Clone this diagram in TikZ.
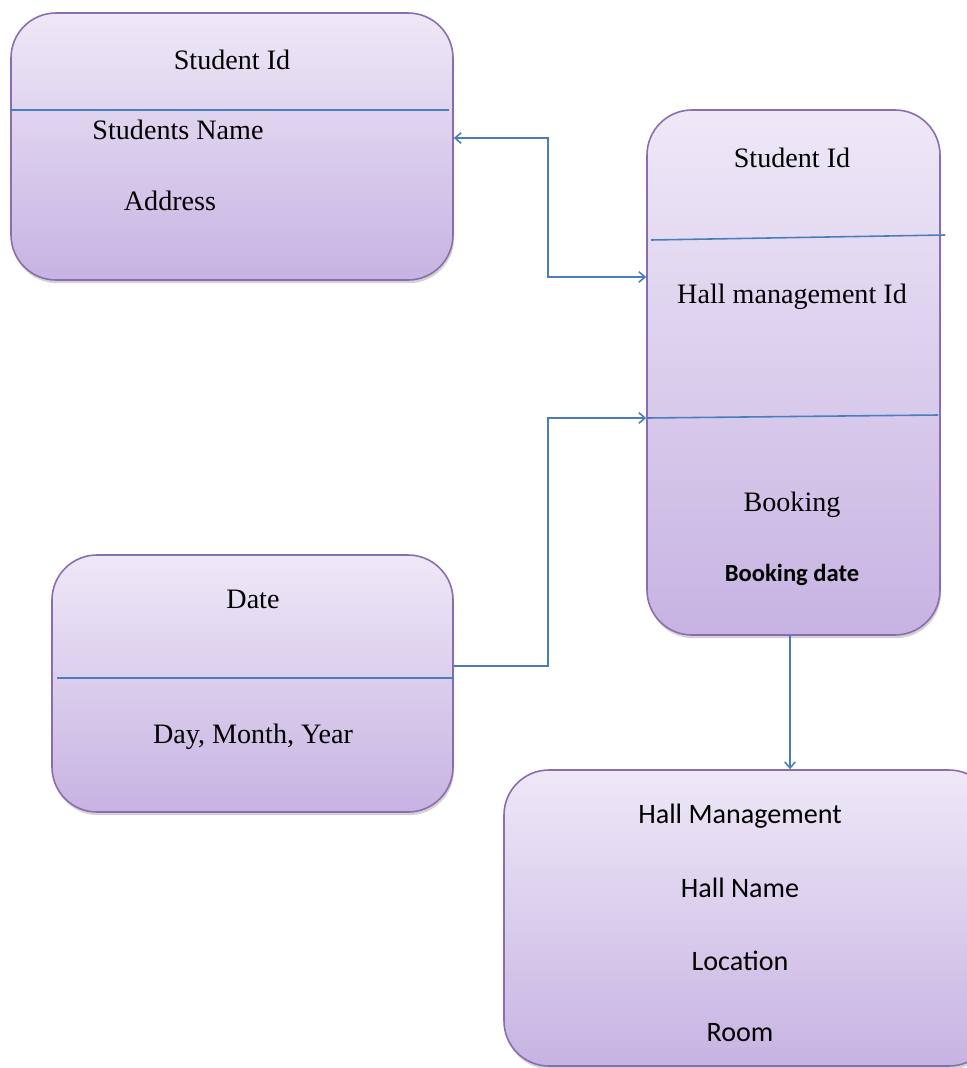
\documentclass[tikz,border=0pt]{standalone}
\usepackage{fontspec}
\setmainfont{Liberation Serif}
\newfontfamily\calib{Carlito}
\usepackage{tikz}
\usetikzlibrary{arrows.meta, positioning, calc, shadows}
\definecolor{lavtop}{HTML}{EEE8F7}
\definecolor{lavbot}{HTML}{C7B3E2}
\definecolor{lavedge}{HTML}{8A6DAE}
\definecolor{linkblue}{HTML}{4A7EBB}

\begin{document}
\begin{tikzpicture}[
    entbox/.style={draw=lavedge, line width=0.9pt, rounded corners=0.9cm,
      top color=lavtop, bottom color=lavbot,
      drop shadow={opacity=0.35, shadow xshift=0.6pt, shadow yshift=-1.8pt}},
    sep/.style={linkblue, line width=0.9pt},
    link/.style={linkblue, line width=0.9pt},
    tip/.style={-{Straight Barb[length=3.5pt,width=6pt]}},
    bothtips/.style={{Straight Barb[length=3.5pt,width=6pt]}-{Straight Barb[length=3.5pt,width=6pt]}},
    lbl/.style={font=\fontsize{16}{18}\selectfont},
    slbl/.style={font=\calib\fontsize{16}{18}\selectfont}
  ]
  \useasboundingbox (0,0) rectangle (19.34,-21.36);
  \fill[white] (0,0) rectangle (19.34,-21.36);

  % entity boxes
  \node[entbox, minimum width=8.84cm, minimum height=5.34cm] (stu) at (4.64,-2.93) {};
  \node[entbox, minimum width=5.86cm, minimum height=10.5cm] (bk) at (15.87,-7.45) {};
  \node[entbox, minimum width=8.02cm, minimum height=5.14cm] (date) at (5.05,-13.67) {};
  \node[entbox, minimum width=9.80cm, minimum height=5.92cm] (hall) at (14.98,-18.36) {};

  % separators
  \draw[sep] (stu.west |- 0,-2.20) -- (8.98,-2.20);
  \draw[sep] (13.02,-4.80) -- (18.90,-4.70);
  \draw[sep] (12.94,-8.36) -- (18.76,-8.30);
  \draw[sep] (1.14,-13.56) -- (date.east |- 0,-13.56);

  % texts
  \node[lbl] (stuid) at (4.64,-1.20) {Student Id};
  \node[lbl] (stuname) at (3.56,-2.60) {Students Name};
  \node[lbl] (stuaddr) at (3.40,-4.02) {Address};
  \node[lbl] (bkstu) at (15.84,-3.16) {Student Id};
  \node[lbl] (bkhall) at (15.84,-5.94) {Hall management Id};
  \node[lbl] (bkname) at (15.84,-10.10) {Booking};
  \node[font=\calib\bfseries\fontsize{14}{16}\selectfont] (bkdate) at (15.84,-11.50) {Booking date};
  \node[lbl] (datename) at (5.06,-11.98) {Date};
  \node[lbl] (dateparts) at (5.06,-14.74) {Day, Month, Year};
  \foreach \y/\t [count=\i] in {-16.32/Hall Management, -17.76/Hall Name, -19.22/Location, -20.66/Room}
    \node[slbl] (hall\i) at (14.8,\y) {\t};

  % connectors
  \draw[link, bothtips] (stu.east |- 0,-2.76) -- (10.96,-2.76) |- (bk.west |- 0,-5.54);
  \draw[link, tip] (date.east |- 0,-13.32) -- (10.96,-13.32) |- (bk.west |- 0,-8.36);
  \draw[link, tip] (bk.south -| 15.80,0) -- (hall.north -| 15.80,0);
\end{tikzpicture}
\end{document}
